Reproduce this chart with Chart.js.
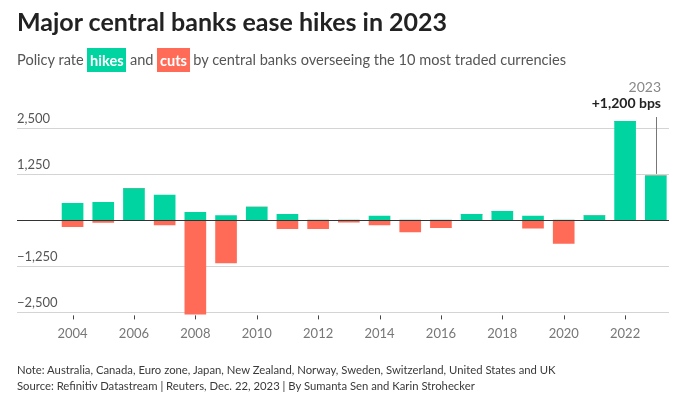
<!DOCTYPE html>
<html>
<head>
<meta charset="utf-8">
<script src="https://cdn.jsdelivr.net/npm/chart.js@4"></script>
<style>
  html, body { margin: 0; padding: 0; background: #fff; }
  body { width: 692px; height: 399px; position: relative; overflow: hidden; font-family: Lato, "Noto Sans", sans-serif; }
  #chart { position: absolute; left: 0; top: 0; }
  .title { position: absolute; left: 17px; top: 6px; font-size: 25px; line-height: 1.2; font-weight: 700; color: #222; white-space: nowrap; }
  .subtitle { position: absolute; left: 17px; top: 51.2px; font-size: 14.6px; line-height: 1.2; color: #555; white-space: nowrap; }
  .tag { color: #fff; font-weight: 700; padding: 3.7px 2.6px; }
  .hikes { background: #00d4a0; }
  .cuts { background: #ff6b57; }
  .footer { position: absolute; left: 17px; top: 361.7px; font-size: 11.3px; line-height: 16px; color: #3a3a3a; white-space: nowrap; }
</style>
</head>
<body>
<canvas id="chart" width="692" height="399"></canvas>
<div class="title">Major central banks ease hikes in 2023</div>
<div class="subtitle">Policy rate <span class="tag hikes">hikes</span> and <span class="tag cuts">cuts</span> by central banks overseeing the 10 most traded currencies</div>
<div class="footer">
  Note: Australia, Canada, Euro zone, Japan, New Zealand, Norway, Sweden, Switzerland, United States and UK<br>
  Source: Refinitiv Datastream | Reuters, Dec. 22, 2023 | By Sumanta Sen and Karin Strohecker
</div>
<script>
const years = [2004, 2005, 2006, 2007, 2008, 2009, 2010, 2011, 2012, 2013,
               2014, 2015, 2016, 2017, 2018, 2019, 2020, 2021, 2022, 2023];
// basis points, sum of hikes / cuts per year
const hikes = [455, 480, 855, 680, 210, 125, 355, 155, 0, 0,
               110, 0, 0, 155, 235, 110, 0, 125, 2680, 1200];
const cuts = [-180, -65, 0, -135, -2555, -1165, 0, -235, -235, -55,
              -135, -325, -210, 0, 0, -220, -635, 0, 0, 0];
const yTicks = [-2500, -1250, 0, 1250, 2500];
const xTicks = [2004, 2006, 2008, 2010, 2012, 2014, 2016, 2018, 2020, 2022];

const GREEN = '#00d4a0';
const RED = '#ff6b57';

function fmt(v) {
  const s = Math.abs(v).toLocaleString('en-US');
  return v < 0 ? '\u2212' + s : s;
}

// zero line over the bars, x tick marks and the 2023 callout
const overlay = {
  id: 'overlay',
  afterDatasetsDraw(chart) {
    const { ctx, chartArea, scales } = chart;
    const y0 = Math.round(scales.y.getPixelForValue(0)) + 0.5;
    ctx.save();
    ctx.lineWidth = 1;
    ctx.strokeStyle = '#333';
    ctx.beginPath();
    ctx.moveTo(chartArea.left, y0);
    ctx.lineTo(chartArea.right, y0);
    ctx.stroke();

    ctx.strokeStyle = '#444';
    ctx.beginPath();
    scales.x.ticks.forEach(t => {
      const tx = Math.round(scales.x.getPixelForValue(t.value)) + 0.5;
      ctx.moveTo(tx, chartArea.bottom);
      ctx.lineTo(tx, chartArea.bottom + 4);
    });
    ctx.stroke();

    const last = years.length - 1;
    const x = Math.round(scales.x.getPixelForValue(years[last])) + 0.5;
    const yBar = scales.y.getPixelForValue(hikes[last]);
    ctx.strokeStyle = '#777';
    ctx.beginPath();
    ctx.moveTo(x, chartArea.top);
    ctx.lineTo(x, yBar - 2);
    ctx.stroke();

    ctx.textAlign = 'right';
    ctx.textBaseline = 'alphabetic';
    ctx.fillStyle = '#888';
    ctx.font = '14px Lato, "Noto Sans", sans-serif';
    ctx.fillText(String(years[last]), x + 4.5, 91.5);
    ctx.fillStyle = '#222';
    ctx.font = 'bold 14px Lato, "Noto Sans", sans-serif';
    ctx.fillText('+' + fmt(hikes[last]) + ' bps', x + 4.5, 107.5);
    ctx.restore();
  }
};

new Chart(document.getElementById('chart'), {
  type: 'bar',
  data: {
    labels: years,
    datasets: [
      { label: 'hikes', data: years.map((yr, i) => ({ x: yr, y: hikes[i] })), backgroundColor: GREEN },
      { label: 'cuts', data: years.map((yr, i) => ({ x: yr, y: cuts[i] })), backgroundColor: RED }
    ]
  },
  options: {
    responsive: false,
    animation: false,
    layout: { padding: { top: 117, left: 17, right: 23, bottom: 50 } },
    barThickness: 21,
    plugins: { legend: { display: false }, tooltip: { enabled: false } },
    scales: {
      x: {
        type: 'linear',
        stacked: true,
        offset: false,
        min: 2002.19,
        max: 2023.43,
        afterBuildTicks: (axis) => { axis.ticks = xTicks.map(v => ({ value: v })); },
        border: { display: false },
        // marks are drawn by the overlay plugin; tickLength still reserves the room
        grid: { display: false, offset: false, drawTicks: true, tickLength: 4 },
        ticks: {
          color: '#777',
          padding: 7,
          maxRotation: 0,
          font: { family: 'Lato', size: 13 },
          callback: (v) => String(v)
        }
      },
      y: {
        stacked: true,
        min: -2590,
        max: 2800,
        afterBuildTicks: (axis) => { axis.ticks = yTicks.map(v => ({ value: v })); },
        border: { display: false },
        grid: { color: '#d4d4d4', drawTicks: false },
        ticks: {
          mirror: true,
          padding: 0,
          labelOffset: -9,
          color: '#555',
          font: { family: 'Lato', size: 13 },
          callback: (v) => (v === 0 ? '' : fmt(v))
        }
      }
    }
  },
  plugins: [overlay]
});
</script>
</body>
</html>
